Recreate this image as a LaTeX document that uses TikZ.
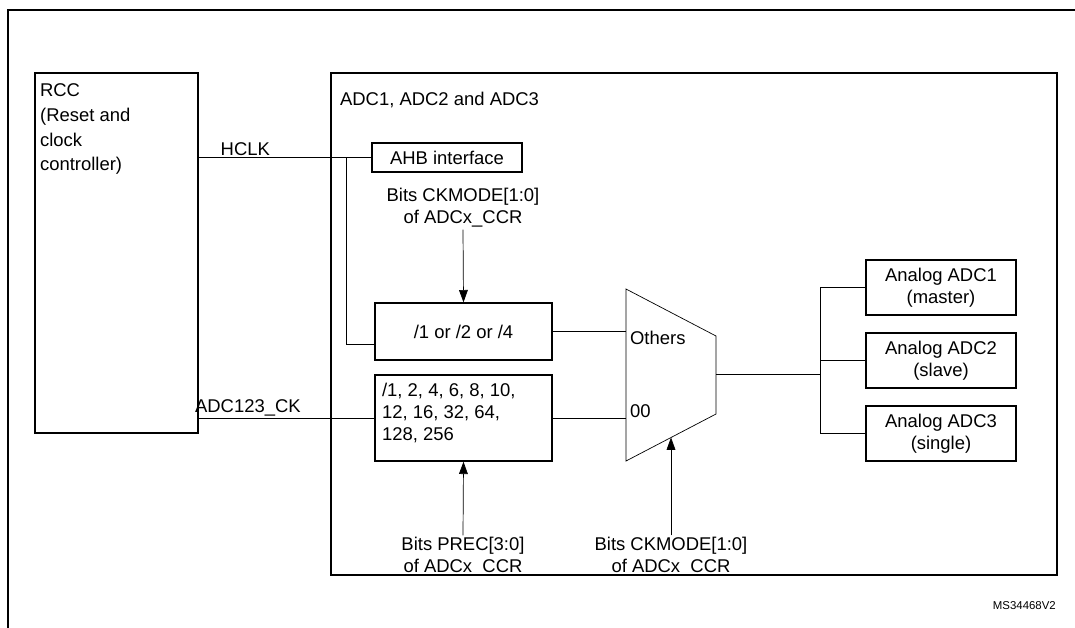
\documentclass[tikz,border=0pt]{standalone}
\usepackage{fontspec}
\setmainfont{Liberation Sans}
\usetikzlibrary{arrows.meta, positioning, calc}

\tikzset{
    blk/.style={draw, thick, inner sep=0pt},
    lbl/.style={font=\fontsize{10.5}{12.5}\selectfont, align=center, inner sep=1pt},
    wire/.style={thin},
    ctl/.style={thin, -{Triangle[length=7pt,width=5pt]}}
}

\begin{document}
\begin{tikzpicture}[x=0.02cm, y=-0.02cm, font=\fontsize{10.5}{12.5}\selectfont]
    \useasboundingbox (0,0) rectangle (1075,627);
    % outer frame
    \draw[thick] (8,700) -- (8,10) -- (1100,10);
    
    % blocks
    \node[blk, minimum width=163*0.02cm, minimum height=360*0.02cm] (rcc) at (116.5,253) {};
    \node[blk, minimum width=726*0.02cm, minimum height=502*0.02cm] (adc) at (694,324) {};
    \node[lbl, anchor=north west, align=left, font=\fontsize{10.5}{14}\selectfont] at (38,82) {RCC\\(Reset and\\clock\\controller)};
    \node[lbl, anchor=north west] at (338,90) {ADC1, ADC2 and ADC3};
    
    \node[blk, minimum width=150*0.02cm, minimum height=29*0.02cm] (ahb) at (447,157.5) {AHB interface};
    \node[blk, minimum width=177*0.02cm, minimum height=57*0.02cm] (divA) at (463.5,331.5) {/1 or /2 or /4};
    \node[blk, minimum width=177*0.02cm, minimum height=86*0.02cm] (divB) at (463.5,418) {};
    \node[lbl, anchor=north west, align=left] at (380,381) {/1, 2, 4, 6, 8, 10,\\12, 16, 32, 64,\\128, 256};
    
    % multiplexer
    \coordinate (mTL) at (626,289);
    \coordinate (mBL) at (626,461);
    \coordinate (mTR) at (716,336);
    \coordinate (mBR) at (716,414);
    \draw[thin] (mTL) -- (mTR) -- (mBR) -- (mBL) -- cycle;
    \node[lbl, anchor=west] (oth) at (628,338) {Others};
    \node[lbl, anchor=west] (zz) at (628,411) {00};
    
    % analog ADCs
    \node[blk, lbl, minimum width=150*0.02cm, minimum height=55*0.02cm] (an1) at (941,287.5) {Analog ADC1\\(master)};
    \node[blk, lbl, minimum width=150*0.02cm, minimum height=55*0.02cm] (an2) at (941,360.5) {Analog ADC2\\(slave)};
    \node[blk, lbl, minimum width=150*0.02cm, minimum height=55*0.02cm] (an3) at (941,433.5) {Analog ADC3\\(single)};
    
    % control texts
    \node[lbl] (ck1) at (463,208) {Bits CKMODE[1:0]\\of ADCx\_CCR};
    \node[lbl] (prec) at (463,557) {Bits PREC[3:0]\\of ADCx\_CCR};
    \node[lbl] (ck2) at (671,557) {Bits CKMODE[1:0]\\of ADCx\_CCR};
    
    % clocks
    \draw[wire] (rcc.east |- ahb) -- node[above, lbl, pos=0.27] {HCLK} (ahb.west);
    \draw[wire] (346,157.5) |- (divA.west |- 0,344);
    \draw[wire] (rcc.east |- divB) -- node[above, lbl, pos=0.28] {ADC123\_CK} (divB.west);
    \draw[wire] (divA.east) -- (divA.east -| mTL);
    \draw[wire] (divB.east) -- (divB.east -| mTL);
    
    % controls
    \draw[ctl] (ck1.south) -- (divA.north);
    \draw[ctl] (prec.north) -- (divB.south);
    \draw[ctl] (ck2.north) -- ($(mBL)!0.5!(mBR)$);
    
    % outputs
    \coordinate (mout) at (716,374);
    \draw[wire] (mout) -- (820,374);
    \draw[wire] (an1.west) -| (820,374) |- (an3.west);
    \draw[wire] (an2.west) -- (an2.west -| 820,0);
    
    \node[font=\fontsize{6.5}{8}\selectfont, anchor=east] at (1062,606) {MS34468V2};
\end{tikzpicture}
\end{document}
